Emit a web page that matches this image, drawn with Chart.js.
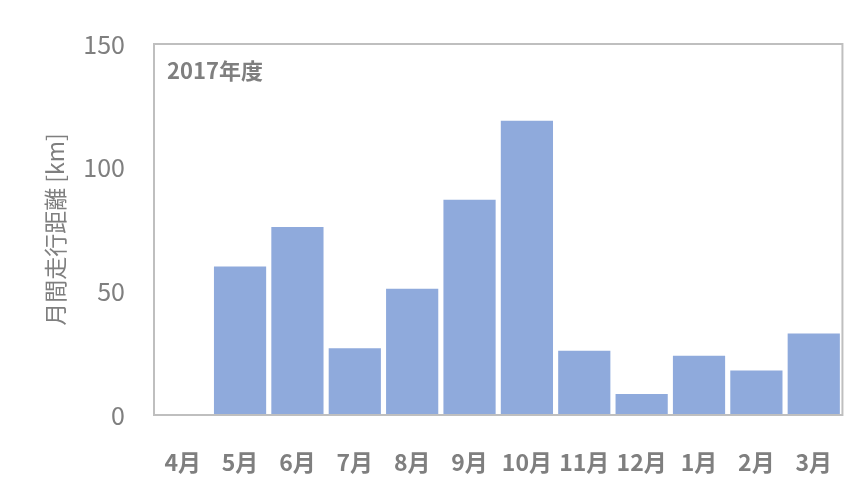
<!DOCTYPE html>
<html>
<head>
<meta charset="utf-8">
<script src="https://cdn.jsdelivr.net/npm/chart.js@4"></script>
<style>
  body { margin: 0; background: #fff; }
  #wrap { width: 866px; height: 485px; }
</style>
</head>
<body>
<div id="wrap"><canvas id="chartDistance"></canvas></div>
<script>
const months = ['4月', '5月', '6月', '7月', '8月', '9月', '10月', '11月', '12月', '1月', '2月', '3月'];
const distance = [0, 60, 76, 27, 51, 87, 119, 26, 8.5, 24, 18, 33];
const yTicks = [0, 50, 100, 150];
const yearLabel = '2017年度';
const axisTitle = '月間走行距離 [km]';

const textColor = '#7f7f7f';
const fontFamily = '"Noto Sans CJK JP", "Noto Sans", sans-serif';

// frame round the plot area + the year label inside it
const frame = {
    id: 'frame',
    afterDraw: function (chart) {
        const ctx = chart.ctx;
        const a = chart.chartArea;
        ctx.save();
        ctx.strokeStyle = '#bfbfbf';
        ctx.lineWidth = 2;
        ctx.strokeRect(a.left, a.top, a.right - a.left, a.bottom - a.top);
        ctx.fillStyle = textColor;
        ctx.font = 'bold 22px ' + fontFamily;
        ctx.textBaseline = 'middle';
        ctx.fillText(yearLabel, a.left + 13, a.top + 27);
        ctx.restore();
    }
};

const ctx = document.getElementById('chartDistance');
const chartDistance = new Chart(ctx, {
    type: 'bar',
    data: {
        labels: months,
        datasets: [{
            data: distance,
            backgroundColor: '#8faadc',
            borderWidth: 0,
            barPercentage: 0.91,
            categoryPercentage: 1
        }]
    },
    options: {
        responsive: true,
        maintainAspectRatio: false,
        animation: false,
        layout: {
            padding: { left: 0, right: 23, top: 43, bottom: 0 }
        },
        plugins: {
            legend: { display: false },
            tooltip: { enabled: false }
        },
        scales: {
            x: {
                grid: { display: false, drawTicks: false },
                border: { display: false },
                ticks: {
                    color: textColor,
                    font: { family: fontFamily, size: 23, weight: 'bold' },
                    padding: 33,
                    maxRotation: 0
                },
                afterFit: function (scale) {
                    scale.height = 70;
                }
            },
            y: {
                min: 0,
                max: 150,
                afterBuildTicks: function (scale) {
                    scale.ticks = yTicks.map(v => ({ value: v }));
                },
                grid: { display: false, drawTicks: false },
                border: { display: false },
                ticks: {
                    color: textColor,
                    font: { family: fontFamily, size: 25 },
                    padding: 29
                },
                title: {
                    display: true,
                    text: axisTitle,
                    color: textColor,
                    font: { family: fontFamily, size: 23 },
                    padding: { top: 41, bottom: 0 }
                },
                afterFit: function (scale) {
                    scale.width = 154;
                }
            }
        }
    },
    plugins: [frame]
});
</script>
</body>
</html>
